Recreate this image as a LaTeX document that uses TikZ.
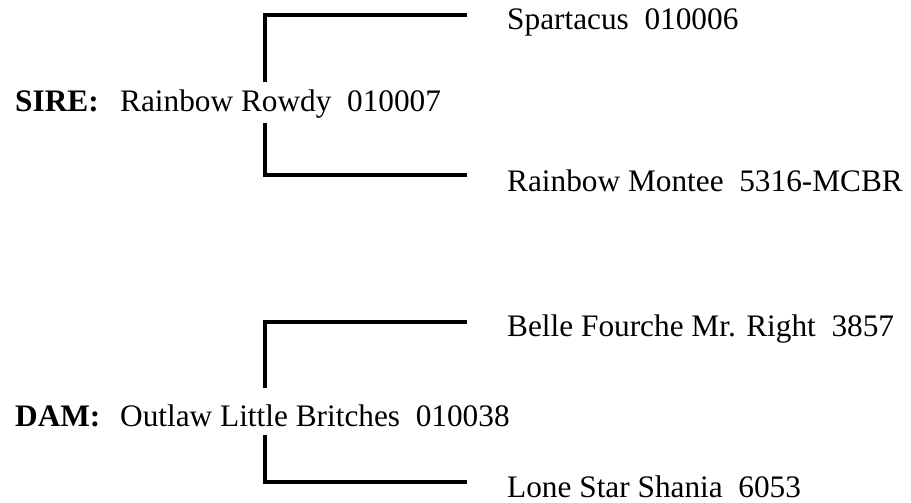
\documentclass[tikz,border=0pt]{standalone}
\usepackage{fontspec}
\setmainfont{Liberation Serif}
\usetikzlibrary{calc}
\tikzset{
	horse/.style={anchor=base west, inner sep=0pt, font=\fontsize{31.3}{36}\selectfont},
	role/.style={horse, font=\fontsize{31.3}{36}\selectfont\bfseries},
	bracket/.style={draw=black, line width=4pt}
}
\begin{document}
\begin{tikzpicture}[x=1pt, y=1pt]
	\useasboundingbox (0,0) rectangle (911,503);
	\coordinate (bar) at (265,0);
	% sire side
	\node[role]  (sirelab) at (15,391)  {SIRE:};
	\node[horse] (sire)    at (120,391) {Rainbow Rowdy\ \ 010007};
	\node[horse] (ss)      at (507,473) {Spartacus\ \ 010006};
	\node[horse] (sd)      at (507,311) {Rainbow Montee\ \ 5316-MCBR};
	% dam side
	\node[role]  (damlab)  at (15,76)   {DAM:};
	\node[horse] (dam)     at (120,76)  {Outlaw Little Britches\ \ 010038};
	\node[horse] (ds)      at (507,166) {Belle Fourche Mr. Right\ \ 3857};
	\node[horse] (dd)      at (507,5)   {Lone Star Shania\ \ 6053};
	% brackets
	\draw[bracket] ($(sire.base -| bar)+(0,30)$)  |- ($(ss.base west)+(-40,15)$);
	\draw[bracket] ($(sire.base -| bar)+(0,-11)$) |- ($(sd.base west)+(-40,17)$);
	\draw[bracket] ($(dam.base -| bar)+(0,39)$)   |- ($(ds.base west)+(-40,15)$);
	\draw[bracket] ($(dam.base -| bar)+(0,-8)$)   |- ($(dd.base west)+(-40,16)$);
\end{tikzpicture}
\end{document}
